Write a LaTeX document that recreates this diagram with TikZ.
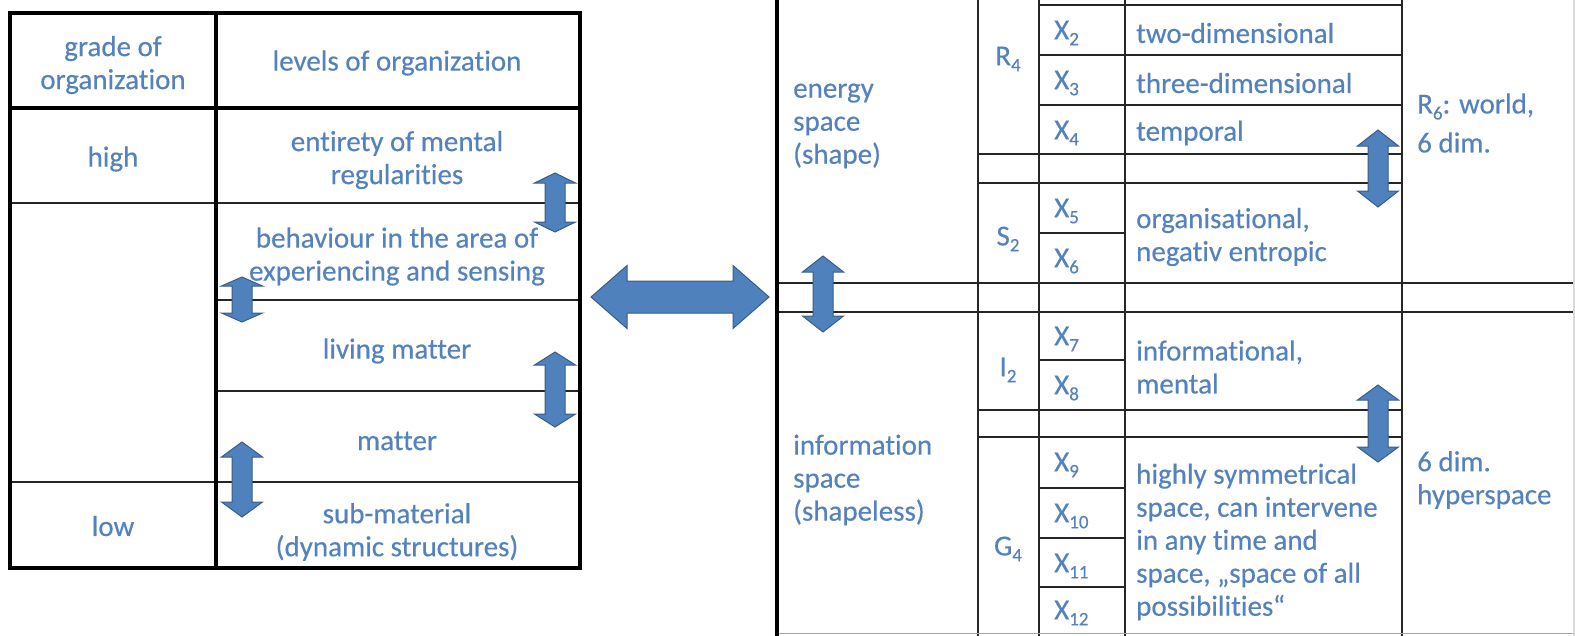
\documentclass[tikz,border=0pt]{standalone}
\usepackage{fontspec}
\setmainfont{Carlito}[Ligatures=NoCommon, FakeBold=0.35]
\definecolor{txt}{RGB}{84,130,190}
\definecolor{arrfill}{RGB}{79,129,189}
\definecolor{arrline}{RGB}{56,93,138}
\newcommand\lowsub[1]{\raisebox{-6pt}{\fontsize{19}{19}\selectfont #1}}
\tikzset{
  every node/.style={font=\fontsize{29}{33}\selectfont, text=txt, inner sep=0pt},
  ctr/.style={align=center, anchor=center},
  lft/.style={align=left, anchor=west},
  heavy/.style={line width=4pt, black},
  mid/.style={line width=3.5pt, black},
  thin/.style={line width=2.2pt, black!85},
  arrowshape/.style={fill=arrfill, draw=arrline, line width=1pt, line join=miter}
}
\newcommand\vdarrow[4]{%
  \filldraw[arrowshape] (#1,#2) -- (#1+20.5,#2+#4) -- (#1+10,#2+#4) -- (#1+10,#3-#4)
    -- (#1+20.5,#3-#4) -- (#1,#3) -- (#1-20.5,#3-#4) -- (#1-10,#3-#4)
    -- (#1-10,#2+#4) -- (#1-20.5,#2+#4) -- cycle;}
\begin{document}
\begin{tikzpicture}[x=1pt,y=-1pt]
\useasboundingbox (0,0) rectangle (1575,635);
\fill[white] (0,0) rectangle (1575,635);
\clip (0,0) rectangle (1575,635);

% ---------- left table ----------
\draw[thin] (10,203) -- (580,203);
\draw[thin] (216,300) -- (580,300);
\draw[thin] (216,391) -- (580,391);
\draw[thin] (10,482) -- (580,482);
\draw[mid] (10,108) -- (580,108);
\draw[mid] (216,13) -- (216,568);
\draw[heavy] (10,13) rectangle (580,568);

\node[ctr] (grade) at (113,65) {grade of\\organization};
\node[ctr] (levels) at (397,63) {levels of organization};
\node[ctr] (high) at (113,159) {high};
\node[ctr] (low) at (113,526) {low};
\node[ctr] (entirety) at (397,160) {entirety of mental\\regularities};
\node[ctr] (behaviour) at (397,256.5) {behaviour in the area of\\experiencing and sensing};
\node[ctr] (living) at (397,351) {living matter};
\node[ctr] (matter) at (397,441) {matter};
\node[ctr] (submat) at (397,532) {sub-material\\(dynamic structures)};

% ---------- right table ----------
\foreach \xx in {978,1039,1125,1402} \draw[thin] (\xx,-5) -- (\xx,640);
\foreach \yy in {5,55,105} \draw[thin] (1039,\yy) -- (1402,\yy);
\foreach \yy in {154,183,410,437} \draw[thin] (978,\yy) -- (1402,\yy);
\foreach \yy in {233,360,488,538,587} \draw[thin] (1039,\yy) -- (1125,\yy);
\draw[thin] (777,283) -- (1580,283);
\draw[thin] (777,312) -- (1580,312);
\draw[line width=1.5pt, black!35] (777,633.5) -- (1580,633.5);
\draw[line width=1.5pt, black!15] (1574,-5) -- (1574,640);
\draw[heavy] (777,-5) -- (777,640);

\node[lft] (energy) at (793,126) {energy\\space\\(shape)};
\node[lft] (info) at (793,480) {information\\space\\(shapeless)};

\node[ctr] (R4) at (1008,59) {R\lowsub{4}};
\node[ctr] (S2) at (1008,239) {S\lowsub{2}};
\node[ctr] (I2) at (1008,370) {I\lowsub{2}};
\node[ctr] (G4) at (1008,549) {G\lowsub{4}};

\node[lft] (x2) at (1054,33) {X\lowsub{2}};
\node[lft] (x3) at (1054,83) {X\lowsub{3}};
\node[lft] (x4) at (1054,133) {X\lowsub{4}};
\node[lft] (x5) at (1054,211) {X\lowsub{5}};
\node[lft] (x6) at (1054,261) {X\lowsub{6}};
\node[lft] (x7) at (1054,339) {X\lowsub{7}};
\node[lft] (x8) at (1054,388) {X\lowsub{8}};
\node[lft] (x9) at (1054,465) {X\lowsub{9}};
\node[lft] (x10) at (1054,516) {X\lowsub{10}};
\node[lft] (x11) at (1054,566) {X\lowsub{11}};
\node[lft] (x12) at (1054,613) {X\lowsub{12}};

\node[lft] (two) at (1136,33) {two-dimensional};
\node[lft] (three) at (1136,83) {three-dimensional};
\node[lft] (temporal) at (1136,133) {temporal};
\node[lft] (organis) at (1136,237) {organisational,\\negativ entropic};
\node[lft] (informational) at (1136,367) {informational,\\mental};
\node[lft] (highly) at (1136,542) {highly symmetrical\\space, can intervene\\in any time and\\space, „space of all\\possibilities“};

\node[lft] (world) at (1417,123) {R\lowsub{6}: world,\\[6pt]6 dim.};
\node[lft] (hyper) at (1417,480) {6 dim.\\hyperspace};

% ---------- arrows ----------
\vdarrow{555}{173}{232}{10}
\vdarrow{242}{277}{322}{9}
\vdarrow{555}{352}{427}{13}
\vdarrow{242}{442}{517}{15}
\vdarrow{823}{256}{332}{16}
\vdarrow{1378}{130}{207}{16}
\vdarrow{1378}{385}{462}{15}
\filldraw[arrowshape] (591,297) -- (627,265.5) -- (627,281) -- (733,281) -- (733,265.5)
  -- (769,297) -- (733,328.5) -- (733,313) -- (627,313) -- (627,328.5) -- cycle;
\end{tikzpicture}
\end{document}
